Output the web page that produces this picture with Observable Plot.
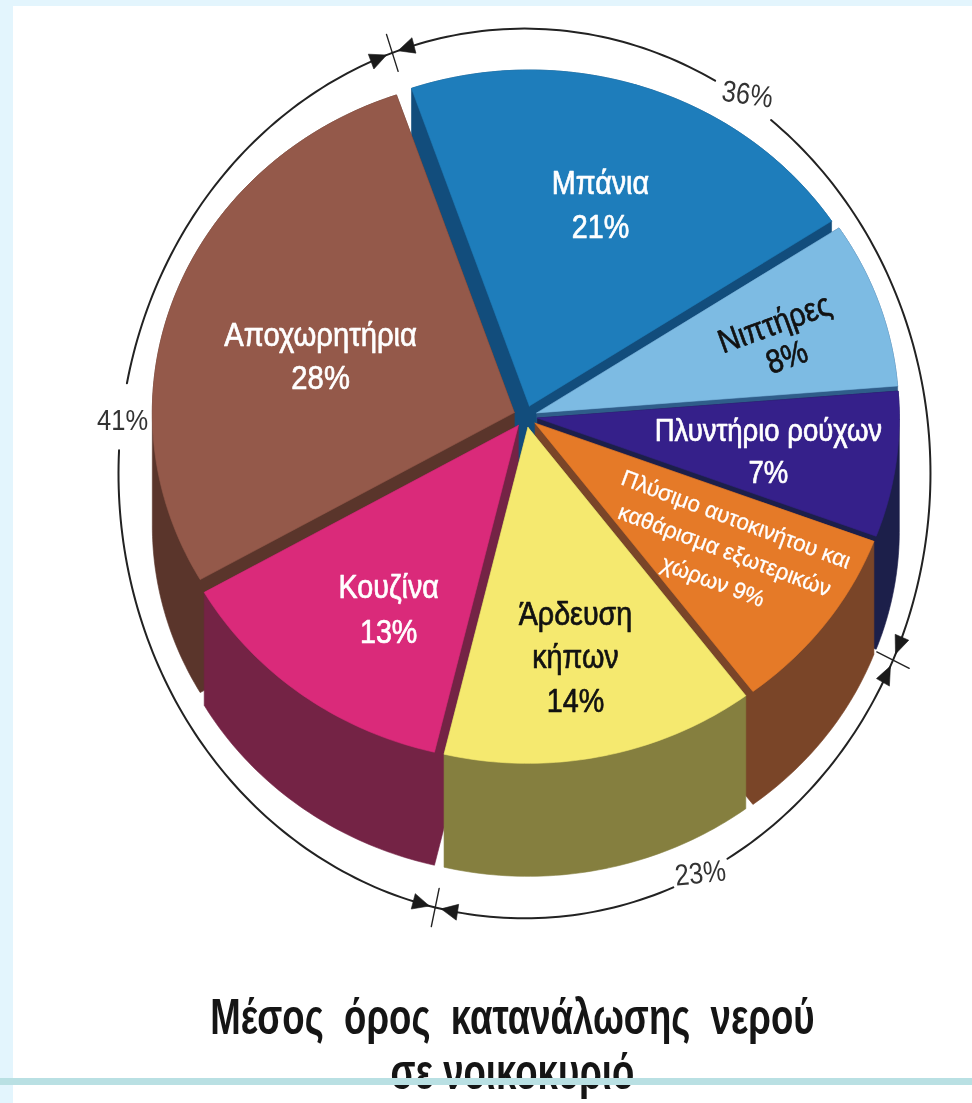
<!DOCTYPE html>
<html>
<head>
<meta charset="utf-8">
<script src="https://cdn.jsdelivr.net/npm/d3@7"></script>
<script src="https://cdn.jsdelivr.net/npm/@observablehq/plot@0.6"></script>
<style>
  html, body { margin: 0; padding: 0; background: #fff; }
  #stage { position: relative; width: 972px; height: 1103px; overflow: hidden; }
  #stage svg { display: block; filter: blur(0.5px); }
  .edge-left { position: absolute; left: 0; top: 0; width: 13px; height: 1103px; background: #e3f5fd; }
  .edge-top { position: absolute; left: 0; top: 0; width: 972px; height: 6px; background: #e3f5fd; }
  .edge-bottom { position: absolute; left: 0; top: 1078px; width: 972px; height: 7px; background: #b9e0e3; }
</style>
</head>
<body>
<div id="stage">
  <div class="edge-left"></div>
  <div class="edge-top"></div>
</div>
<script>
// ---- data ----
const sliceNames = ["Μπάνια\n21%", "Νιπτήρες\n8%", "Πλυντήριο ρούχων\n7%",
  "Πλύσιμο αυτοκινήτου και\nκαθάρισμα εξωτερικών\nχώρων 9%",
  "Άρδευση\nκήπων\n14%", "Κουζίνα\n13%", "Αποχωρητήρια\n28%"];
const sliceShares = [21, 8, 7, 9, 14, 13, 28];
const faceColors = ["#1e7dbb", "#7dbbe3", "#35208a", "#e57a28", "#f5e96f", "#da2a7a", "#94594a"];
const wallColors = ["#124d7c", "#2f5d8a", "#1c1f4a", "#7a4528", "#857f3f", "#742345", "#5a352b"];
const ringLabels = ["36%", "23%", "41%"];
const ringBreaks = [-19, 114.8, 192.7];        // degrees clockwise from the top
const ringGaps = [[28, 37.4], [150, 158.5], [273, 281.7]]; // where the ring gives way to its label
const titleLines = ["Μέσος  όρος  κατανάλωσης  νερού", "σε νοικοκυριό"];

// ---- pie geometry in unit-ellipse coordinates ----
const W = 972, H = 1103;
const pxPerUnitX = 362, pxPerUnitY = 336, originX = 525, originY = 416;
const startDeg = -19, depth = 113 / pxPerUnitY, explode = 0.033;
const rad = d => d * Math.PI / 180;
const range = (a, b) => { const n = Math.max(2, Math.ceil(Math.abs(b - a))); return d3.range(n + 1).map(i => a + (b - a) * i / n); };

let acc = startDeg;
const slices = sliceShares.map((share, i) => {
  const a0 = acc, a1 = acc + share * 3.6; acc = a1;
  const mid = rad((a0 + a1) / 2);
  const ox = explode * Math.sin(mid), oy = explode * Math.cos(mid);
  const pts = [[ox, oy], ...range(a0, a1).map(d => [ox + Math.sin(rad(d)), oy + Math.cos(rad(d))])];
  const hull = d3.polygonHull([...pts, ...pts.map(([x, y]) => [x, y - depth])]);
  return {i, top: [...pts, pts[0]], hull: [...hull, hull[0]]};
});
const paintOrder = [0, 1, 2, 3, 6, 5, 4];

const ringCX = -0.0028, ringCY = -0.1696, ringRX = 1.1215, ringRY = 1.324;
const ringPt = (d, k = 1) => [ringCX + k * ringRX * Math.sin(rad(d)), ringCY + k * ringRY * Math.cos(rad(d))];
const ringStops = [ringBreaks[0], ringGaps[0][0], ringGaps[0][1], ringBreaks[1], ringGaps[1][0], ringGaps[1][1], ringBreaks[2], ringGaps[2][0], ringGaps[2][1], ringBreaks[0] + 360];
const ringArcs = [[0, 1], [2, 3], [3, 4], [5, 6], [6, 7], [8, 9]].map(([a, b]) => range(ringStops[a], ringStops[b]).map(d => ringPt(d)));
const ticks = ringBreaks.map(d => [ringPt(d, 0.956), ringPt(d, 1.044)]);
const arrows = ringBreaks.flatMap(d => [-1, 1].map(s => [ringPt(d + s * 0.85), ringPt(d + s * 3.2, 0.982), ringPt(d + s * 3.2, 1.018), ringPt(d + s * 0.85)]));

const px = d => d[0], py = d => d[1];
const poly = (pts, color) => Plot.line(pts, {x: px, y: py, fill: color, stroke: color, strokeWidth: 0.6, curve: "linear"});

const font = "Liberation Sans, Arial, sans-serif";

// the source lettering is condensed and no narrow face is installed: squeeze the text horizontally
const squeeze = sx => (index, scales, values, dims, ctx, next) => {
  const g = next(index, scales, values, dims, ctx);
  g.querySelectorAll("text").forEach(t => t.setAttribute("transform", `${t.getAttribute("transform") || ""} scale(${sx},1)`));
  return g;
};

// label placement, in the same unit-ellipse coordinates, parallel to sliceNames
const labelPlace = [
  {x: 0.207, y: 0.639, size: 33, sx: 0.87, fill: "#fff", rotate: 0, lh: 1.33, sw: 0.7},
  {x: 0.704, y: 0.229, size: 33, sx: 0.87, fill: "#111", rotate: -20, lh: 1.09, sw: 0.7},
  {x: 0.671, y: -0.095, size: 31, sx: 0.887, fill: "#fff", rotate: 0, lh: 1.35, sw: 0.7},
  {x: 0.553, y: -0.39, size: 23, sx: 0.97, fill: "#fff", rotate: 20.5, lh: 1.43, sw: 0.3},
  {x: 0.138, y: -0.708, size: 33, sx: 0.87, fill: "#111", rotate: 0, lh: 1.32, sw: 0.7},
  {x: -0.378, y: -0.5635, size: 33, sx: 0.87, fill: "#fff", rotate: 0, lh: 1.36, sw: 0.7},
  {x: -0.566, y: 0.187, size: 34, sx: 0.86, fill: "#fff", rotate: 0, lh: 1.26, sw: 0.7}
];
const ringPlace = [
  {x: 0.613, y: 0.958, rotate: 8},
  {x: 0.483, y: -1.36, rotate: -6},
  {x: -1.113, y: -0.012, rotate: 0}
];
const titlePlace = [{x: -0.036, y: -1.789}, {x: -0.036, y: -1.955}];

const chart = Plot.plot({
  width: W, height: H,
  margin: 0,
  style: {background: "transparent"},
  x: {domain: [-originX / pxPerUnitX, (W - originX) / pxPerUnitX], range: [0, W], axis: null},
  y: {domain: [(originY - H) / pxPerUnitY, originY / pxPerUnitY], range: [H, 0], axis: null},
  marks: [
    ...paintOrder.flatMap(i => [poly(slices[i].hull, wallColors[i]), poly(slices[i].top, faceColors[i])]),
    ...ringArcs.map(a => Plot.line(a, {x: px, y: py, stroke: "#222", strokeWidth: 2})),
    ...ticks.map(t => Plot.line(t, {x: px, y: py, stroke: "#222", strokeWidth: 1.4})),
    ...arrows.map(a => poly(a, "#1a1a1a")),
    ...sliceNames.map((name, i) => {
      const p = labelPlace[i];
      return Plot.text([name], {x: () => p.x, y: () => p.y, text: d => d, fill: p.fill, fontSize: p.size, rotate: p.rotate, lineHeight: p.lh, fontFamily: font, fontWeight: 500, stroke: p.fill, strokeWidth: p.sw, render: squeeze(p.sx)});
    }),
    ...ringLabels.map((label, i) => {
      const p = ringPlace[i];
      return Plot.text([label], {x: () => p.x, y: () => p.y, text: d => d, fill: "#333", fontSize: 30, rotate: p.rotate, fontFamily: font, render: squeeze(0.85)});
    }),
    ...titleLines.map((line, i) => {
      const p = titlePlace[i];
      return Plot.text([line], {x: () => p.x, y: () => p.y, text: d => d, fill: "#151515", fontSize: 50, fontFamily: font, fontWeight: 700, render: squeeze(0.732)});
    })
  ]
});
const stage = document.getElementById("stage");
stage.prepend(chart);
const band = document.createElement("div");
band.className = "edge-bottom";
stage.appendChild(band);
</script>
</body>
</html>
